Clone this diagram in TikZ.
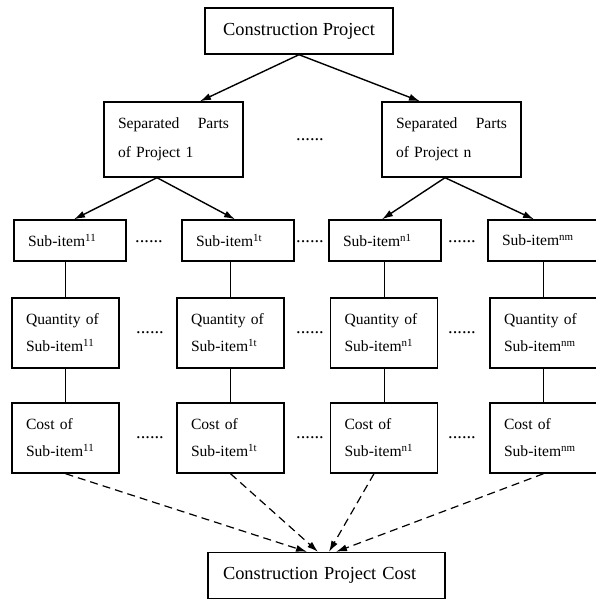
\documentclass[tikz,border=0pt]{standalone}
\usepackage{fontspec}
\setmainfont{Liberation Serif}
\usetikzlibrary{arrows.meta}

\begin{document}
\begin{tikzpicture}[x=1pt, y=-1pt, >={Latex[length=11pt,width=7pt]},
    bigbox/.style={rectangle, draw, line width=1.4pt, minimum height=46pt, inner sep=0pt, font=\fontsize{18.4}{22}\selectfont},
    partbox/.style={rectangle, draw, line width=1.4pt, minimum height=75pt, inner xsep=14pt, inner ysep=0pt, text width=111pt, align=left, font=\fontsize{15.6}{29}\selectfont},
    subbox/.style={rectangle, draw, line width=1.4pt, minimum height=41pt, inner xsep=14pt, inner ysep=0pt, text width=84pt, align=left, font=\fontsize{15.6}{27}\selectfont},
    qtybox/.style={rectangle, draw, line width=1.4pt, minimum height=70pt, inner xsep=14pt, inner ysep=0pt, text width=79pt, align=left, font=\fontsize{15.6}{27}\selectfont},
    gapdots/.style={inner sep=0pt, font=\fontsize{18.4}{22}\selectfont},
    flow/.style={->, line width=1.4pt},
    costflow/.style={->, line width=1.2pt, dash pattern=on 8pt off 5pt},
    link/.style={line width=0.8pt}]
    \useasboundingbox (0,0) rectangle (595,601);

    \node (proj) [bigbox, minimum width=188pt] at (299,31) {Construction Project};

    \node (part1) [partbox] at (173.5,139.5) {Separated\hfill Parts\\of Project 1};
    \node (partn) [partbox] at (451.5,139.5) {Separated\hfill Parts\\of Project n};
    \node (gapP) [gapdots] at (310,140) {......};

    \node (sub11) [subbox] at (70,240.5) {Sub-item\textsuperscript{11}};
    \node (sub1t) [subbox] at (238,240.5) {Sub-item\textsuperscript{1t}};
    \node (subn1) [subbox] at (385,240.5) {Sub-item\textsuperscript{n1}};
    \node (subnm) [subbox] at (544,240.5) {Sub-item\textsuperscript{nm}};
    \node (gapS1) [gapdots] at (149,242) {......};
    \node (gapS2) [gapdots] at (310,242) {......};
    \node (gapS3) [gapdots] at (462,242) {......};

    \node (qty11) [qtybox] at (65.5,333) {Quantity of\\Sub-item\textsuperscript{11}};
    \node (qty1t) [qtybox] at (230.5,333) {Quantity of\\Sub-item\textsuperscript{1t}};
    \node (qtyn1) [qtybox] at (384,333) {Quantity of\\Sub-item\textsuperscript{n1}};
    \node (qtynm) [qtybox] at (543.5,333) {Quantity of\\Sub-item\textsuperscript{nm}};
    \node (gapQ1) [gapdots] at (150,333) {......};
    \node (gapQ2) [gapdots] at (310,333) {......};
    \node (gapQ3) [gapdots] at (462,333) {......};

    \node (cost11) [qtybox] at (65.5,438) {Cost of\\Sub-item\textsuperscript{11}};
    \node (cost1t) [qtybox] at (230.5,438) {Cost of\\Sub-item\textsuperscript{1t}};
    \node (costn1) [qtybox] at (384,438) {Cost of\\Sub-item\textsuperscript{n1}};
    \node (costnm) [qtybox] at (543.5,438) {Cost of\\Sub-item\textsuperscript{nm}};
    \node (gapC1) [gapdots] at (150,438) {......};
    \node (gapC2) [gapdots] at (310,438) {......};
    \node (gapC3) [gapdots] at (462,438) {......};

    \node (total) [bigbox, text width=207pt, inner xsep=15pt, align=left] at (326.5,575.5) {Construction Project Cost};

    % project to its parts
    \draw[flow] (proj.south) -- ([xshift=26.5pt]part1.north);
    \draw[flow] (proj.south) -- ([xshift=-31.5pt]partn.north);

    % parts to sub-items
    \draw[flow] ([xshift=-16.5pt]part1.south) -- ([xshift=4pt]sub11.north);
    \draw[flow] ([xshift=-16.5pt]part1.south) -- ([xshift=-3pt]sub1t.north);
    \draw[flow] ([xshift=-6.5pt]partn.south) -- ([xshift=-3pt]subn1.north);
    \draw[flow] ([xshift=-6.5pt]partn.south) -- ([xshift=-10pt]subnm.north);

    % sub-item -> quantity -> cost
    \draw[link] (sub11.south -| qty11.north) -- (qty11.north);
    \draw[link] (sub1t.south -| qty1t.north) -- (qty1t.north);
    \draw[link] (subn1.south -| qtyn1.north) -- (qtyn1.north);
    \draw[link] (subnm.south -| qtynm.north) -- (qtynm.north);
    \draw[link] (qty11.south) -- (cost11.north);
    \draw[link] (qty1t.south) -- (cost1t.north);
    \draw[link] (qtyn1.south) -- (costn1.north);
    \draw[link] (qtynm.south) -- (costnm.north);

    % costs add up
    \draw[costflow] (cost11.south) -- ([xshift=-19.5pt]total.north);
    \draw[costflow] (cost1t.south) -- ([xshift=-8.5pt]total.north);
    \draw[costflow] ([xshift=-10pt]costn1.south) -- ([xshift=2.5pt]total.north);
    \draw[costflow] (costnm.south) -- ([xshift=9.5pt]total.north);
\end{tikzpicture}
\end{document}
